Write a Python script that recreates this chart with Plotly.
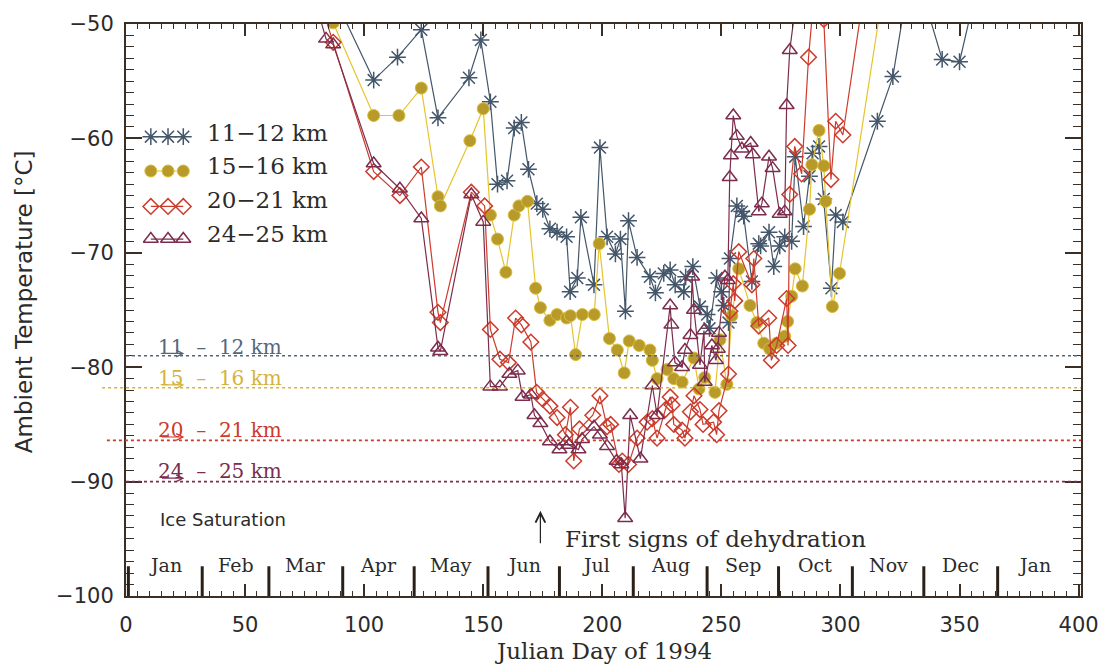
import plotly.graph_objects as go

# ---------------- data ----------------
day_11 = [86, 104, 114, 124, 131, 144, 149, 153, 156, 160, 163, 166, 169, 172.5, 175, 178, 181, 185,
          186.5, 189.5, 191, 196.5, 199, 202, 205.5, 207.6, 209.7, 211, 214.6, 220, 222.3, 225.8, 228.5,
          230.6, 234.2, 235, 238, 241, 244, 245, 248, 250, 251, 253, 253.6, 256.5, 258.6, 259.4, 262.8,
          265.7, 266.5, 270, 272, 274.5, 276.6, 279.5, 281, 284.5, 287, 288.3, 291, 293, 296.2, 298, 301,
          315.5, 322, 328, 334, 342.7, 350, 357]
t_11 = [-47, -54.9, -52.9, -50.5, -58.2, -54.7, -51.4, -56.8, -64.0, -63.7, -59.1, -58.6, -62.7, -65.7,
        -66.2, -67.9, -68.2, -68.6, -73.4, -72.2, -66.9, -72.8, -60.8, -68.6, -70.1, -68.8, -75.1, -67.2,
        -70.4, -72.1, -73.5, -71.8, -71.5, -72.8, -73.4, -72.1, -71.2, -74.7, -75.4, -76.6, -72.2, -73.4,
        -74.6, -76.1, -70.5, -65.9, -66.4, -66.8, -72.5, -69.2, -69.4, -68.2, -71.2, -69.4, -68.6, -69.0,
        -61.6, -67.7, -63.3, -61.3, -60.7, -65.3, -73.1, -66.7, -67.3, -58.5, -54.6, -47, -47, -53.1,
        -53.3, -47]

day_15 = [80, 87, 104, 114.6, 124, 131, 132, 144.4, 150, 153, 156, 159.5, 163, 165, 168.6, 172, 174, 178,
          181, 185, 186.6, 188.8, 191.6, 196.6, 198.7, 203, 206.3, 209.2, 211.3, 215.5, 220, 221, 223,
          227.2, 230, 233.5, 238.5, 240.6, 243, 247.3, 249.4, 252.3, 254.4, 257.3, 262, 264.9, 267.8,
          270.3, 273.2, 276.6, 277.8, 279.5, 281, 284, 287, 288, 291, 293, 293.8, 296.6, 299.6, 318]
t_15 = [-46, -49.9, -58.0, -58.0, -55.6, -65.1, -65.9, -60.2, -57.4, -66.7, -68.8, -71.7, -66.7, -65.9,
        -65.5, -73.1, -74.8, -75.9, -75.4, -75.7, -75.5, -78.9, -75.4, -75.4, -69.2, -77.5, -78.5, -80.5,
        -77.7, -78.1, -78.5, -79.4, -81.0, -80.2, -81.0, -81.3, -79.2, -81.9, -80.9, -82.2, -77.6, -81.5,
        -75.5, -71.4, -74.6, -76.1, -77.9, -78.4, -77.9, -77.3, -76.0, -73.8, -71.4, -72.9, -66.2, -62.3,
        -59.3, -62.4, -65.5, -74.7, -71.8, -47]

day_20 = [80, 87, 104, 115, 124, 131, 132, 145, 150.6, 153, 157, 160.6, 163.6, 166, 170, 172.4, 175, 178,
          181, 184.5, 186.6, 188, 190.4, 196, 199, 202, 203.5, 207, 208.4, 211, 214.6, 218.8, 221, 223,
          226.5, 228.5, 229.3, 230, 233.5, 234.7, 237, 238.5, 241, 242.3, 246.7, 248, 249, 253, 253.6,
          255, 255.6, 257.3, 262.8, 263.6, 265.7, 269.9, 271, 273.2, 277.4, 278, 278.7, 280.8, 283.7,
          286.6, 289.5, 293, 296, 298, 301, 310]
t_20 = [-47, -51.6, -62.9, -65.0, -62.5, -75.2, -76.1, -64.7, -65.9, -76.7, -79.3, -79.6, -75.7, -76.3,
        -77.8, -82.2, -82.8, -83.4, -84.4, -85.9, -83.5, -88.2, -85.4, -84.2, -82.5, -85.2, -85.0, -88.5,
        -88.2, -88.5, -86.2, -84.8, -84.5, -86.2, -83.7, -82.6, -83.3, -85.0, -85.5, -86.2, -83.9, -82.5,
        -83.7, -85.0, -84.8, -85.9, -83.8, -80.6, -75.1, -72.7, -74.2, -69.9, -72.8, -70.5, -76.4, -75.7,
        -79.4, -78.1, -74.0, -78.1, -64.9, -60.7, -63.1, -52.9, -46, -49.6, -63.6, -58.5, -59.7, -47]

day_24 = [78, 84, 87, 104, 115, 124, 131, 132, 145, 150, 153, 157, 161, 164.5, 166.5, 170, 171.5, 174, 178,
          182, 185, 186, 190, 191.5, 196.5, 199, 202, 206, 208, 209.6, 211.7, 216, 221, 223, 228.5, 229,
          230.5, 233.5, 234.7, 237, 237.7, 238.5, 241, 242.7, 243, 246, 247.7, 248.5, 249, 251.5, 252.7,
          253.5, 254, 255, 256.5, 258.6, 262.3, 263.2, 265.7, 267, 270, 271.5, 274.5, 276.6, 277.4, 278.7,
          282]
t_24 = [-47, -51.3, -51.8, -62.2, -64.4, -67.0, -78.3, -78.6, -64.9, -67.3, -81.7, -81.7, -80.6, -80.3,
        -82.6, -82.4, -84.2, -84.9, -86.5, -87.2, -86.5, -86.8, -87.2, -86.3, -85.2, -85.9, -86.9, -88.2,
        -88.5, -93.2, -84.2, -88.0, -81.6, -84.2, -74.6, -76.3, -79.6, -80.0, -78.5, -77.2, -72.1, -75.0,
        -79.8, -76.8, -81.3, -78.1, -79.4, -78.4, -77.0, -72.1, -72.4, -63.4, -61.5, -58.0, -59.8, -60.9,
        -60.4, -61.4, -66.4, -65.7, -61.6, -62.6, -66.6, -66.4, -57.1, -52.3, -47]

series_names = ["11\u221212 km", "15\u221216 km", "20\u221221 km", "24\u221225 km"]
ice_sat_temp = [-79.0, -81.8, -86.4, -90.0]
ice_sat_labels = ["11\u00a0\u00a0\u2013\u00a0\u00a012 km", "15\u00a0\u00a0\u2013\u00a0\u00a016 km",
                  "20\u00a0\u00a0\u2013\u00a0\u00a021 km", "24\u00a0\u00a0\u2013\u00a0\u00a025 km"]
ice_label_temp = [-78.2, -80.95, -85.5, -89.1]

month_names = ["Jan", "Feb", "Mar", "Apr", "May", "Jun", "Jul", "Aug", "Sep", "Oct", "Nov", "Dec", "Jan"]
month_start = [1, 32, 60, 91, 121, 152, 182, 213, 244, 274, 305, 335, 366, 397]

dehydration_day = 174
x_ticks = [0, 50, 100, 150, 200, 250, 300, 350, 400]
y_ticks = [-100, -90, -80, -70, -60, -50]

# ---------------- styles ----------------
C11 = "#44566a"
C15M = "#b89a2a"
C15L = "#e6c42c"
C20 = "#cc3b2b"
C24 = "#7c2c4c"
AX = "#3b2f25"
SERIF = "DejaVu Serif"
SANS = "DejaVu Sans"

styles = [
    dict(line=dict(color=C11, width=1.2), marker=dict(symbol="asterisk-open", size=14, color=C11, line=dict(color=C11, width=1.5))),
    dict(line=dict(color=C15L, width=1.2), marker=dict(symbol="circle", size=12, color=C15M, line=dict(color="#d8bc3a", width=1))),
    dict(line=dict(color=C20, width=1.2), marker=dict(symbol="diamond-open", size=12, color=C20, line=dict(color=C20, width=1.5))),
    dict(line=dict(color=C24, width=1.2), marker=dict(symbol="triangle-up-open", size=13, color=C24, line=dict(color=C24, width=1.5))),
]
ice_colors = ["#56667a", "#d4b43a", "#cc3b2b", "#7c2c4c"]

fig = go.Figure()

for (dx, ty), st, nm in zip([(day_11, t_11), (day_15, t_15), (day_20, t_20), (day_24, t_24)], styles, series_names):
    fig.add_trace(go.Scatter(x=dx, y=ty, mode="lines+markers", name=nm, showlegend=False,
                             line=st["line"], marker=st["marker"], cliponaxis=True))

# legend samples on an overlay axis (paper-like 0..1)
leg_x = [0.026, 0.044, 0.060]
leg_y = [0.803, 0.743, 0.681, 0.624]
leg_ty = [0.81, 0.752, 0.692, 0.632]
for st, ly, lty, nm in zip(styles, leg_y, leg_ty, series_names):
    fig.add_trace(go.Scatter(x=leg_x, y=[ly] * 3, mode="lines+markers", xaxis="x2", yaxis="y2",
                             showlegend=False, line=st["line"], marker=st["marker"], hoverinfo="skip"))
    fig.add_annotation(x=0.083, y=lty, xref="paper", yref="paper", text=nm, showarrow=False,
                       xanchor="left", yanchor="middle", font=dict(family=SERIF, size=23, color="#2b2b2b"))

# ice saturation dotted lines and labels
starts = [0.0, -0.025, -0.02, 0.0]
for t, lab, lt, col, x0 in zip(ice_sat_temp, ice_sat_labels, ice_label_temp, ice_colors, starts):
    fig.add_shape(type="line", xref="paper", yref="y", x0=x0, x1=1.0, y0=t, y1=t,
                  line=dict(color=col, width=1.6, dash="dot"))
    fig.add_annotation(x=12.5, y=lt, xref="x", yref="y", text=lab, showarrow=False,
                       xanchor="left", yanchor="middle", font=dict(family=SERIF, size=20, color=col))
    # small arrow drawn across the label, pointing right
    fig.add_annotation(x=24.5, y=lt - 0.6, xref="x", yref="y", ax=-24, ay=0, text="",
                       showarrow=True, arrowhead=5, arrowsize=1.1, arrowwidth=1.2, arrowcolor=col)

fig.add_annotation(x=13.4, y=-93.3, xref="x", yref="y", text="Ice Saturation", showarrow=False,
                   xanchor="left", yanchor="middle", font=dict(family=SANS, size=18, color="#2b2b2b"))

# first signs of dehydration arrow
fig.add_annotation(x=dehydration_day, y=-92.55, xref="x", yref="y", ax=0, ay=34, text="",
                   showarrow=True, arrowhead=5, arrowsize=1.6, arrowwidth=1.2, arrowcolor="#222222")
fig.add_annotation(x=dehydration_day + 9.5, y=-95.0, xref="x", yref="y", text="First signs of dehydration",
                   showarrow=False, xanchor="left", yanchor="middle",
                   font=dict(family=SERIF, size=23, color="#2b2b2b"))

# month ticks and labels
for i, m in enumerate(month_names):
    fig.add_shape(type="line", xref="x", yref="y", x0=month_start[i], x1=month_start[i], y0=-100, y1=-97.4,
                  line=dict(color="#2a2018", width=3))
    mid = (month_start[i] + month_start[i + 1]) / 2
    fig.add_annotation(x=mid, y=-97.25, xref="x", yref="y", text=m, showarrow=False,
                       xanchor="center", yanchor="middle", font=dict(family=SERIF, size=19, color="#2b2b2b"))

# axis titles
fig.add_annotation(x=0.5, y=-0.097, xref="paper", yref="paper", text="Julian Day of 1994", showarrow=False,
                   xanchor="center", yanchor="middle", font=dict(family=SERIF, size=23, color="#2b2b2b"))
fig.add_annotation(x=-0.106, y=0.515, xref="paper", yref="paper", text="Ambient Temperature [\u00b0C]",
                   showarrow=False, textangle=-90, xanchor="center", yanchor="middle",
                   font=dict(family=SANS, size=23, color="#2b2b2b"))

fig.update_layout(
    width=1111, height=666,
    margin=dict(l=126, r=30, t=16, b=70),
    paper_bgcolor="white", plot_bgcolor="white",
    showlegend=False,
    xaxis=dict(range=[0, 401], tickvals=x_ticks, ticks="inside", ticklen=12, tickwidth=1.5, tickcolor=AX,
               showline=True, linecolor=AX, linewidth=2, mirror="ticks", showgrid=False, zeroline=False,
               minor=dict(dtick=5, tick0=0, ticks="inside", ticklen=5, tickwidth=1, tickcolor=AX, showgrid=False),
               tickfont=dict(family=SANS, size=21, color="#2b2b2b"), ticklabelstandoff=9),
    yaxis=dict(range=[-100, -50], tickvals=y_ticks, ticks="inside", ticklen=16, tickwidth=1.5, tickcolor=AX,
               showline=True, linecolor=AX, linewidth=2, mirror="ticks", showgrid=False, zeroline=False,
               minor=dict(dtick=1, tick0=-100, ticks="inside", ticklen=8, tickwidth=1, tickcolor=AX, showgrid=False),
               tickfont=dict(family=SANS, size=21, color="#2b2b2b"), ticklabelstandoff=6),
    xaxis2=dict(overlaying="x", range=[0, 1], visible=False, fixedrange=True),
    yaxis2=dict(overlaying="y", range=[0, 1], visible=False, fixedrange=True),
)

fig.write_html("out.html")
